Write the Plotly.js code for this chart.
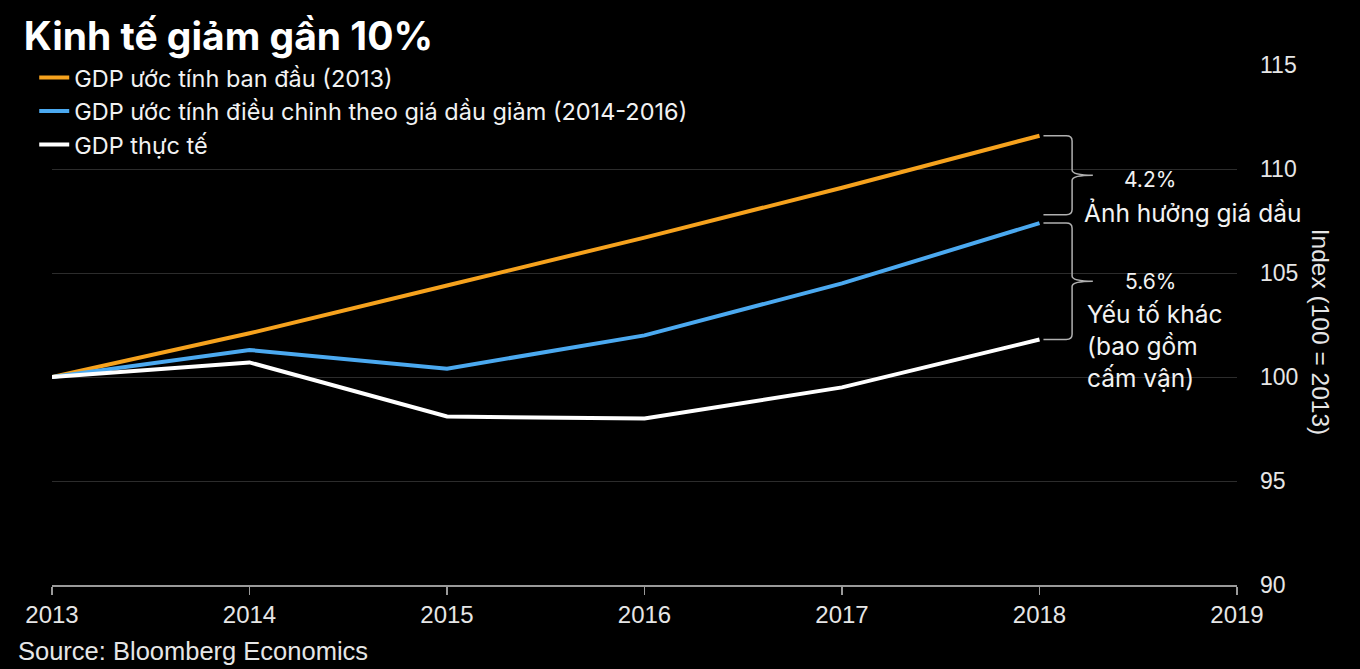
<!DOCTYPE html>
<html>
<head>
<meta charset="utf-8">
<script src="https://cdn.plot.ly/plotly-3.0.1.min.js"></script>
<style>
  html, body { margin: 0; padding: 0; background: #000; }
  #chart { width: 1360px; height: 669px; }
</style>
</head>
<body>
<div id="chart"></div>
<script>
// Years on the x axis
const years = [2013, 2014, 2015, 2016, 2017, 2018];
const xTicks = [2013, 2014, 2015, 2016, 2017, 2018, 2019];

// GDP index series (100 = 2013)
const gdpInitial = [100, 102.1, 104.4, 106.7, 109.1, 111.6];
const gdpOilAdjusted = [100, 101.3, 100.4, 102.0, 104.5, 107.4];
const gdpActual = [100, 100.7, 98.1, 98.0, 99.5, 101.8];

const seriesNames = [
  'GDP ước tính ban đầu (2013)',
  'GDP ước tính điều chỉnh theo giá dầu giảm (2014-2016)',
  'GDP thực tế'
];

const labelFont = 'Inter, "Noto Sans", sans-serif';
const axisFont = '"Liberation Sans", Arial, sans-serif';

const traces = [
  {x: years, y: gdpInitial, name: seriesNames[0], mode: 'lines',
   line: {color: '#f6a21d', width: 4}},
  {x: years, y: gdpOilAdjusted, name: seriesNames[1], mode: 'lines',
   line: {color: '#4ba9f0', width: 4}},
  {x: years, y: gdpActual, name: seriesNames[2], mode: 'lines',
   line: {color: '#ffffff', width: 4}}
];

// Gaps between the three paths at the last year
const last = years.length - 1;
const lastYear = years[last];
const oilGap = gdpInitial[last] - gdpOilAdjusted[last];
const otherGap = gdpOilAdjusted[last] - gdpActual[last];

// Curly brace between two values, opening to the right of the last point
function brace(yTop, yBot) {
  const x0 = lastYear + 0.02, xb = lastYear + 0.165, xt = lastYear + 0.27;
  const xc = xb - 0.03, r = 0.25, mid = (yTop + yBot) / 2;
  const p = [
    `M${x0},${yTop}`, `L${xc},${yTop}`, `Q${xb},${yTop} ${xb},${yTop - r}`,
    `L${xb},${mid + r}`, `Q${xb},${mid} ${xt},${mid}`,
    `Q${xb},${mid} ${xb},${mid - r}`,
    `L${xb},${yBot + r}`, `Q${xb},${yBot} ${xc},${yBot}`, `L${x0},${yBot}`
  ].join(' ');
  return {type: 'path', xref: 'x', yref: 'y', path: p,
          line: {color: '#b0b0b0', width: 1.5}};
}

const shapes = [
  brace(gdpInitial[last], gdpOilAdjusted[last] + 0.4),
  brace(gdpOilAdjusted[last], gdpActual[last])
];

const noteFont = {family: labelFont, size: 24.5, color: '#f2f2f2'};
const pctFont = {family: labelFont, size: 21, color: '#f2f2f2'};
const annotations = [
  {xref: 'x', yref: 'y', x: lastYear + 0.56, y: gdpInitial[last] - oilGap / 2,
   text: oilGap.toFixed(1) + '%', showarrow: false, xanchor: 'center',
   yanchor: 'middle', font: pctFont},
  {xref: 'x', yref: 'y', x: lastYear + 0.215, y: gdpOilAdjusted[last] + 0.5,
   text: 'Ảnh hưởng giá dầu', showarrow: false, xanchor: 'left',
   yanchor: 'middle', font: noteFont},
  {xref: 'x', yref: 'y', x: lastYear + 0.56, y: gdpOilAdjusted[last] - otherGap / 2,
   text: otherGap.toFixed(1) + '%', showarrow: false, xanchor: 'center',
   yanchor: 'middle', font: pctFont},
  {xref: 'x', yref: 'y', x: lastYear + 0.23, y: 101.5,
   text: 'Yếu tố khác<br>(bao gồm<br>cấm vận)', showarrow: false,
   xanchor: 'left', yanchor: 'middle', align: 'left', font: noteFont},
  // Right-hand axis title, reading top to bottom
  {xref: 'paper', yref: 'paper', x: 1.07, y: 0.487,
   text: 'Index (100 = 2013)', showarrow: false, textangle: 90,
   xanchor: 'center', yanchor: 'middle',
   font: {family: axisFont, size: 24.5, color: '#e6e6e6'}},
  {xref: 'paper', yref: 'paper', x: -0.0305, y: -0.127,
   text: 'Source: Bloomberg Economics', showarrow: false,
   xanchor: 'left', yanchor: 'middle',
   font: {family: axisFont, size: 25.5, color: '#e6e6e6'}}
];

const layout = {
  width: 1360, height: 669,
  paper_bgcolor: '#000', plot_bgcolor: '#000',
  margin: {l: 52, r: 123, t: 65, b: 84},
  title: {
    text: 'Kinh tế giảm gần 10%', xref: 'container', yref: 'container',
    x: 0.0175, xanchor: 'left', y: 1 - 36 / 669, yanchor: 'middle',
    font: {family: labelFont, size: 39, weight: 700, color: '#ffffff'}
  },
  showlegend: true,
  legend: {
    x: -0.015, xanchor: 'left', y: 1.018, yanchor: 'top',
    bgcolor: 'rgba(0,0,0,0)', borderwidth: 0,
    font: {family: labelFont, size: 23.5, color: '#f2f2f2'},
    tracegroupgap: 0
  },
  xaxis: {
    range: [2013, 2019], tickvals: xTicks, ticktext: xTicks.map(String),
    showgrid: false, zeroline: false, showline: true,
    linecolor: '#9a9a9a', linewidth: 1.5,
    ticks: 'outside', ticklen: 8, tickcolor: '#9a9a9a', tickwidth: 1.5,
    tickfont: {family: axisFont, size: 24, color: '#e6e6e6'},
    fixedrange: true
  },
  yaxis: {
    range: [90, 115], dtick: 5, side: 'right',
    showgrid: true, gridcolor: '#2c2c2c', gridwidth: 1,
    zeroline: false, showline: false, ticks: '',
    ticklabelstandoff: 22,
    tickfont: {family: axisFont, size: 23, color: '#e6e6e6'},
    fixedrange: true
  },
  shapes: shapes,
  annotations: annotations
};

Plotly.newPlot('chart', traces, layout, {displayModeBar: false, staticPlot: true});
</script>
</body>
</html>
